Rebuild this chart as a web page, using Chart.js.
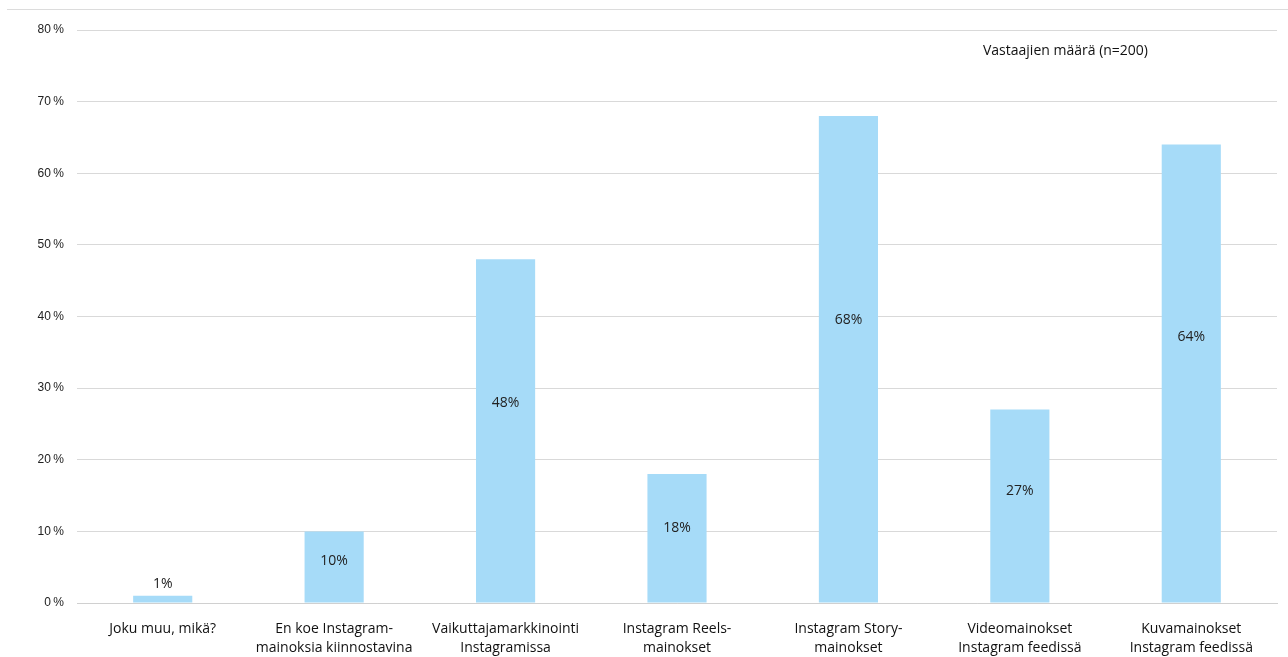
<!DOCTYPE html>
<html>
<head>
<meta charset="utf-8">
<script src="https://cdn.jsdelivr.net/npm/chart.js@4"></script>
<style>
  html, body { margin: 0; padding: 0; background: #fff; }
  #wrap { position: relative; width: 1288px; height: 657px; }
  #topline { position: absolute; left: 7px; right: 0; top: 9px; border-top: 1px solid #dcdcdc; }
</style>
</head>
<body>
<div id="wrap">
  <div id="topline"></div>
  <canvas id="chart" width="1288" height="657"></canvas>
</div>
<script>
const categories = [
  ["Joku muu, mikä?"],
  ["En koe Instagram-", "mainoksia kiinnostavina"],
  ["Vaikuttajamarkkinointi", "Instagramissa"],
  ["Instagram Reels-", "mainokset"],
  ["Instagram Story-", "mainokset"],
  ["Videomainokset", "Instagram feedissä"],
  ["Kuvamainokset", "Instagram feedissä"]
];
const shares = [1, 10, 48, 18, 68, 27, 64];
const subtitleText = "Vastaajien määrä (n=200)";

document.addEventListener("DOMContentLoaded", () => {
  const el = document.getElementById("chart");
  const FONT = "'Open Sans', 'Liberation Sans', Arial, sans-serif";

  // value labels: a bit above the middle of the bar, or above it if the bar is too short
  const valueLabels = {
    id: "valueLabels",
    afterDatasetsDraw(chart) {
      const ctx = chart.ctx;
      const meta = chart.getDatasetMeta(0);
      ctx.save();
      ctx.font = "14px " + FONT;
      ctx.fillStyle = "#222";
      ctx.textAlign = "center";
      ctx.textBaseline = "middle";
      meta.data.forEach((bar, i) => {
        const h = bar.base - bar.y;
        const y = h < 24 ? bar.y - 12 : bar.base - h * 0.58;
        ctx.fillText(shares[i] + "%", bar.x, y);
      });
      ctx.restore();
    }
  };

  // small note in the top right of the plot area
  const note = {
    id: "note",
    afterDraw(chart) {
      const ctx = chart.ctx;
      const a = chart.chartArea;
      ctx.save();
      ctx.font = "14px " + FONT;
      ctx.fillStyle = "#111";
      ctx.textAlign = "right";
      ctx.textBaseline = "middle";
      ctx.fillText(subtitleText, a.right - 129, a.top + 21);
      ctx.restore();
    }
  };

  new Chart(el.getContext("2d"), {
    type: "bar",
    data: {
      labels: categories,
      datasets: [{
        data: shares,
        backgroundColor: "#a6dbf8",
        barPercentage: 0.345,
        categoryPercentage: 1
      }]
    },
    options: {
      responsive: false,
      animation: false,
      layout: { padding: { top: 30, right: 11, left: 0, bottom: 0 } },
      plugins: { legend: { display: false }, tooltip: { enabled: false } },
      scales: {
        x: {
          grid: { display: false },
          border: { display: true, color: "#d0d0d0", width: 1 },
          ticks: {
            color: "#111",
            font: { size: 14, family: FONT, lineHeight: 1.4 },
            padding: 8,
            maxRotation: 0,
            autoSkip: false
          },
          afterFit: s => { s.height = 54; }
        },
        y: {
          min: 0,
          max: 80,
          grid: { color: "#d9d9d9", drawTicks: false },
          border: { display: false },
          ticks: {
            stepSize: 10,
            color: "#222",
            padding: 13,
            font: { size: 12, family: "'Liberation Sans', Arial, sans-serif" },
            callback: v => v + "\u2009%"
          },
          afterFit: s => { s.width = 77; }
        }
      }
    },
    plugins: [valueLabels, note]
  });
});
</script>
</body>
</html>
